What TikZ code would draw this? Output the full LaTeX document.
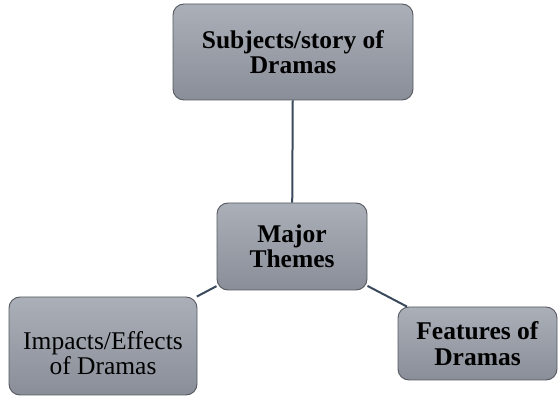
\documentclass[tikz,border=0pt]{standalone}
\usepackage{fontspec}
\setmainfont{Liberation Serif}
\begin{document}
\begin{tikzpicture}[x=1pt,y=-1pt,
  themebox/.style={rectangle, rounded corners=11pt, draw=boxedge, line width=0.9pt,
    top color=boxtop, bottom color=boxbottom, align=center, inner sep=0pt,
    font=\fontsize{25.5}{25.5}\selectfont},
  plaintext/.style={align=center, inner sep=0pt, font=\fontsize{25.5}{24.5}\selectfont},
  link/.style={draw=linkcol, line width=2pt}]
\definecolor{boxtop}{HTML}{ABAFB8}
\definecolor{boxbottom}{HTML}{898E98}
\definecolor{boxedge}{HTML}{55595F}
\definecolor{linkcol}{HTML}{3A4A5C}
\useasboundingbox (0,0) rectangle (560,403);
\node[themebox, minimum width=240pt, minimum height=96pt] (subj) at (293,52)
  {\textbf{Subjects/story of}\\\textbf{Dramas}};
\node[themebox, minimum width=150pt, minimum height=87pt] (major) at (292,246.5)
  {\textbf{Major}\\\textbf{Themes}};
\node[themebox, minimum width=188pt, minimum height=98pt] (impact) at (103,346) {};
\node[plaintext] (impacttext) at (103,353) {Impacts/Effects\\of Dramas};
\node[themebox, minimum width=159pt, minimum height=73pt] (feat) at (477.5,343.5)
  {\textbf{Features of}\\\textbf{Dramas}};
\draw[link] (subj) -- (major);
\draw[link] (major) -- (impact);
\draw[link] (major) -- (feat);
\end{tikzpicture}
\end{document}
